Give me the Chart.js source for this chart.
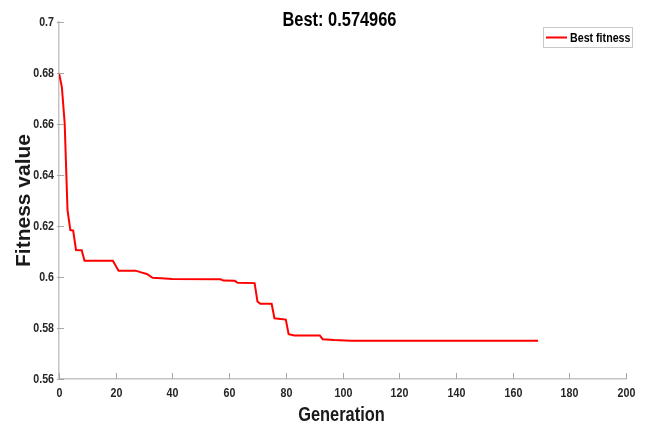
<!DOCTYPE html>
<html>
<head>
<meta charset="utf-8">
<script src="https://cdn.jsdelivr.net/npm/chart.js@4.4.1/dist/chart.umd.min.js"></script>
<style>
  html, body { margin: 0; padding: 0; background: #fff; }
  #wrap { width: 645px; height: 427px; }
</style>
</head>
<body>
<div id="wrap"><canvas id="fitness"></canvas></div>
<script>
// best fitness per generation
const generations = [0, 1, 2, 3, 4, 5, 6, 8, 9, 19, 21, 27, 29, 31, 33, 36, 40, 57, 58, 62, 63, 69, 70, 71, 75, 76, 80, 81, 83, 92, 93, 97, 103, 135, 169];
const bestFitness = [0.68, 0.6746, 0.6604, 0.6263, 0.6184, 0.6182, 0.6106, 0.6105, 0.6064, 0.6064, 0.6025, 0.6025, 0.6018, 0.6012, 0.5997, 0.5995, 0.5992, 0.5991, 0.5986, 0.5985, 0.5977, 0.5976, 0.5904, 0.5895, 0.5895, 0.5838, 0.5833, 0.5776, 0.5771, 0.5771, 0.5756, 0.5753, 0.575, 0.57497, 0.574966];
const titleText = 'Best: 0.574966';
const seriesLabel = 'Best fitness';
const xAxisLabel = 'Generation';
const yAxisLabel = 'Fitness value';

const sans = "'Liberation Sans', Arial, sans-serif";
const axisGray = '#c4c4c4';
const squeeze = 0.82; // the original picture is squashed sideways

function narrowText(ctx, text, x, y, size, align, color) {
  ctx.save();
  ctx.translate(x, y);
  ctx.scale(squeeze, 1);
  ctx.font = 'bold ' + size + 'px ' + sans;
  ctx.fillStyle = color;
  ctx.textAlign = align;
  ctx.textBaseline = 'middle';
  ctx.fillText(text, 0, 0);
  ctx.restore();
}

// ticks, labels, title and boxed legend, matlab style
const decorations = {
  id: 'decorations',
  afterDraw(chart) {
    const ctx = chart.ctx;
    const area = chart.chartArea;
    const xs = chart.scales.x, ys = chart.scales.y;
    ctx.save();

    ctx.strokeStyle = '#a8a8a8';
    ctx.lineWidth = 1;
    xs.ticks.forEach(t => {
      const px = Math.round(xs.getPixelForValue(t.value)) + 0.5;
      ctx.beginPath(); ctx.moveTo(px, area.bottom); ctx.lineTo(px, area.bottom - 6); ctx.stroke();
      narrowText(ctx, t.label, px, area.bottom + 14, 13, 'center', '#262626');
    });
    ys.ticks.forEach(t => {
      const py = Math.round(ys.getPixelForValue(t.value)) + 0.5;
      ctx.beginPath(); ctx.moveTo(area.left - 2, py); ctx.lineTo(area.left + 5, py); ctx.stroke();
      narrowText(ctx, t.label, area.left - 5, py, 13, 'right', '#262626');
    });

    const cx = (area.left + area.right) / 2;
    narrowText(ctx, titleText, cx - 3, 20, 20, 'center', '#000');
    narrowText(ctx, xAxisLabel, cx - 1, 415, 20, 'center', '#1a1a1a');

    // legend box
    const ds = chart.data.datasets[0];
    const bx = area.right - 83, by = area.top + 5, bw = 89, bh = 20;
    ctx.fillStyle = '#fff';
    ctx.fillRect(bx, by, bw, bh);
    ctx.strokeStyle = '#c8c8c8';
    ctx.strokeRect(bx + 0.5, by + 0.5, bw, bh);
    ctx.strokeStyle = ds.borderColor;
    ctx.lineWidth = 2;
    ctx.beginPath(); ctx.moveTo(bx + 3, by + 10.5); ctx.lineTo(bx + 24, by + 10.5); ctx.stroke();
    narrowText(ctx, ds.label, bx + 27, by + 11, 13, 'left', '#000');
    ctx.restore();
  }
};

const points = generations.map((g, i) => ({ x: g, y: bestFitness[i] }));

new Chart(document.getElementById('fitness'), {
  type: 'line',
  data: {
    datasets: [{
      label: seriesLabel,
      data: points,
      borderColor: '#ff0000',
      borderWidth: 2,
      pointRadius: 0,
      tension: 0,
      fill: false,
    }],
  },
  options: {
    responsive: true,
    maintainAspectRatio: false,
    animation: false,
    layout: { padding: { top: 22, right: 19, left: 0, bottom: 0 } },
    plugins: {
      legend: { display: false },
      title: { display: false },
      tooltip: { enabled: false },
    },
    scales: {
      x: {
        type: 'linear',
        min: 0,
        max: 200,
        ticks: { stepSize: 20, display: false },
        grid: { drawOnChartArea: false, drawTicks: false },
        border: { display: true, color: axisGray, width: 1.5 },
        afterFit: s => { s.height = 48; },
      },
      y: {
        min: 0.56,
        max: 0.7,
        ticks: {
          stepSize: 0.02,
          display: false,
          callback: v => String(Number(v.toFixed(2))),
        },
        grid: { drawOnChartArea: false, drawTicks: false },
        border: { display: true, color: axisGray, width: 1.5 },
        title: {
          display: true,
          text: yAxisLabel,
          color: '#1a1a1a',
          font: { family: sans, size: 21, weight: 'bold' },
          padding: { top: 12, bottom: 0 },
        },
        afterFit: s => { s.width = 59; },
      },
    },
  },
  plugins: [decorations],
});
</script>
</body>
</html>
